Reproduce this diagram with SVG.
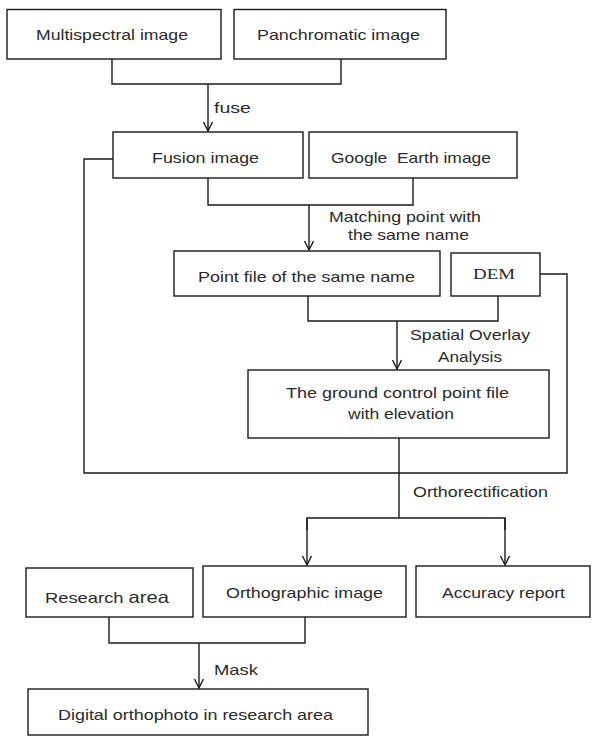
<svg xmlns="http://www.w3.org/2000/svg" width="592" height="736" viewBox="0 0 592 736">
<style>
.box{fill:#fff;stroke:#1a1a1a;stroke-width:1.4}
.ln{fill:none;stroke:#1a1a1a;stroke-width:1.4}
text{font-family:"Liberation Sans",Arial,sans-serif;font-size:15px;fill:#2a2a2a;text-anchor:start}
.serif{font-family:"Liberation Serif","Times New Roman",serif}
</style>
<defs>
<marker id="arr" markerUnits="userSpaceOnUse" markerWidth="14" markerHeight="14" viewBox="-12 -7 14 14" refX="0" refY="0" orient="auto">
<path d="M-9,-4.5 L0,0 L-9,4.5" fill="none" stroke="#1a1a1a" stroke-width="1.4"/>
</marker>
</defs>
<rect width="592" height="736" fill="#fff"/>
<g id="connectors">
<polyline class="ln" points="112,59 112,84 341,84 341,59"/>
<line class="ln" x1="208" y1="84" x2="208" y2="131" marker-end="url(#arr)"/>
<polyline class="ln" points="113,159 84,159 84,473 567,473 567,274 540,274"/>
<polyline class="ln" points="208,178 208,205 413,205 413,178"/>
<line class="ln" x1="309" y1="205" x2="309" y2="250" marker-end="url(#arr)"/>
<polyline class="ln" points="308,296 308,321 498,321 498,296"/>
<line class="ln" x1="397" y1="321" x2="397" y2="369" marker-end="url(#arr)"/>
<line class="ln" x1="399" y1="438" x2="399" y2="518"/>
<polyline class="ln" points="307,530 307,518 505,518 505,530"/>
<line class="ln" x1="307" y1="518" x2="307" y2="565" marker-end="url(#arr)"/>
<line class="ln" x1="505" y1="518" x2="505" y2="565" marker-end="url(#arr)"/>
<polyline class="ln" points="109,617 109,643 305,643 305,617"/>
<line class="ln" x1="199" y1="643" x2="199" y2="688" marker-end="url(#arr)"/>
<text x="214" y="113" textLength="37" lengthAdjust="spacingAndGlyphs">fuse</text>
<text x="329" y="222" textLength="152" lengthAdjust="spacingAndGlyphs">Matching point with</text>
<text x="348" y="240" textLength="121" lengthAdjust="spacingAndGlyphs">the same name</text>
<text x="410" y="340" textLength="120" lengthAdjust="spacingAndGlyphs">Spatial Overlay</text>
<text x="438" y="362" textLength="64" lengthAdjust="spacingAndGlyphs">Analysis</text>
<text x="413" y="497" textLength="135" lengthAdjust="spacingAndGlyphs">Orthorectification</text>
<text x="214" y="675" textLength="44" lengthAdjust="spacingAndGlyphs">Mask</text>
</g>
<g id="multispectral">
<rect class="box" x="7" y="9.5" width="214" height="49.5"/>
<text x="36" y="40" textLength="152" lengthAdjust="spacingAndGlyphs">Multispectral image</text>
</g>
<g id="panchromatic">
<rect class="box" x="234" y="9.5" width="212" height="49.5"/>
<text x="257" y="40" textLength="163" lengthAdjust="spacingAndGlyphs">Panchromatic image</text>
</g>
<g id="fusion">
<rect class="box" x="113" y="132" width="190" height="46"/>
<text x="152" y="163" textLength="107" lengthAdjust="spacingAndGlyphs">Fusion image</text>
</g>
<g id="google">
<rect class="box" x="309" y="132" width="208" height="46"/>
<text x="331" y="163" textLength="160" lengthAdjust="spacingAndGlyphs" xml:space="preserve">Google  Earth image</text>
</g>
<g id="pointfile">
<rect class="box" x="174" y="251" width="266" height="45"/>
<text x="198" y="282" textLength="217" lengthAdjust="spacingAndGlyphs">Point file of the same name</text>
</g>
<g id="dem">
<rect class="box" x="451" y="253" width="89" height="43"/>
<text class="serif" x="473" y="279" textLength="42" lengthAdjust="spacingAndGlyphs">DEM</text>
</g>
<g id="gcp">
<rect class="box" x="248" y="370" width="301" height="68"/>
<text x="286" y="398" textLength="223" lengthAdjust="spacingAndGlyphs">The ground control point file</text>
<text x="348" y="419" textLength="106" lengthAdjust="spacingAndGlyphs">with elevation</text>
</g>
<g id="research">
<rect class="box" x="26" y="568" width="167" height="49"/>
<text x="45" y="603" textLength="124" lengthAdjust="spacingAndGlyphs">Research <tspan font-size="16.5">area</tspan></text>
</g>
<g id="orthographic">
<rect class="box" x="203" y="566" width="203" height="51"/>
<text x="226" y="598" textLength="157" lengthAdjust="spacingAndGlyphs">Orthographic image</text>
</g>
<g id="accuracy">
<rect class="box" x="416" y="566" width="174" height="51"/>
<text x="442" y="598" textLength="123" lengthAdjust="spacingAndGlyphs">Accuracy report</text>
</g>
<g id="digital">
<rect class="box" x="28" y="689" width="340" height="46"/>
<text x="58" y="720" textLength="275" lengthAdjust="spacingAndGlyphs">Digital orthophoto in research area</text>
</g>
</svg>
